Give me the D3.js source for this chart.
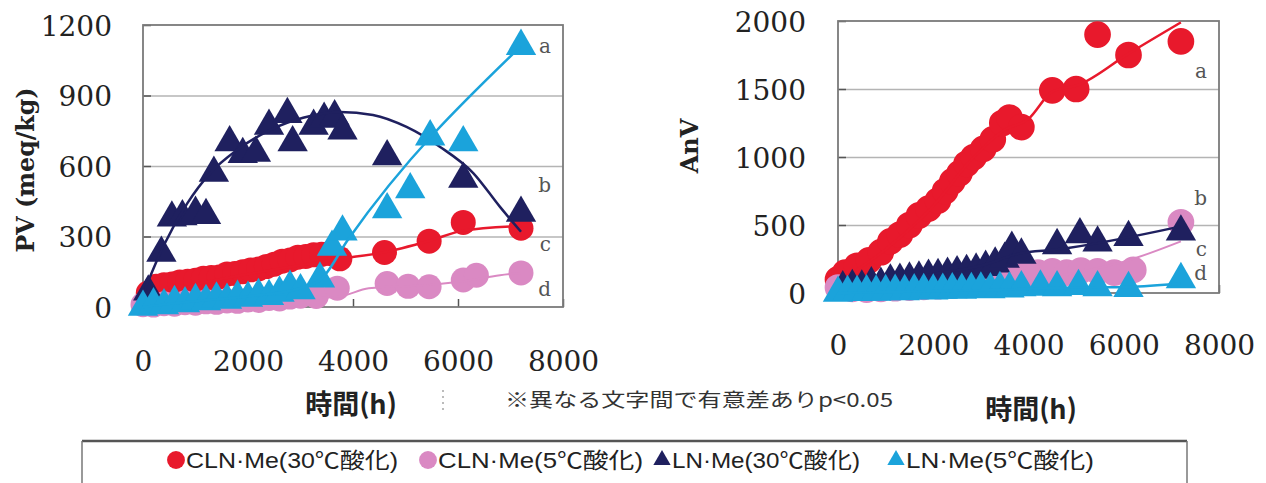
<!DOCTYPE html>
<html>
<head>
<meta charset="utf-8">
<script src="https://cdn.jsdelivr.net/npm/d3@7"></script>
<style>
  html, body { margin: 0; padding: 0; background: #fff; }
  svg { display: block; }
  .tick-label { font-family: "DejaVu Serif", serif; font-size: 28px; fill: #222; }
  .axis-title { font-family: "DejaVu Serif", serif; font-weight: bold; font-size: 24px; fill: #222; }
  .jp-title { font-family: "Noto Sans CJK JP", sans-serif; font-weight: bold; font-size: 27px; fill: #222; }
  .letter { font-family: "DejaVu Serif", serif; font-size: 20px; fill: #555; }
</style>
</head>
<body>
<div id="chart"></div>
<script>
const width = 1266;
const height = 483;

// shared x ticks (hours)
const timeTicks = [0, 2000, 4000, 6000, 8000];
const pvTicks = [0, 300, 600, 900, 1200];
const anvTicks = [0, 500, 1000, 1500, 2000];

const seriesNames = ["CLN·Me(30℃酸化)", "CLN·Me(5℃酸化)", "LN·Me(30℃酸化)", "LN·Me(5℃酸化)"];
const seriesColors = ["#e8192c", "#da89c3", "#1f205f", "#1ba3db"];
const seriesShapes = ["circle", "circle", "triangle", "triangle"];

// ---- PV panel (left) : [hours, value]
const pvRed = [[100, 60], [250, 88], [400, 95], [550, 98], [700, 106], [850, 110], [1000, 114], [1150, 122],
  [1300, 126], [1450, 128], [1600, 140], [1750, 143], [1900, 150], [2050, 158], [2200, 162], [2350, 172],
  [2500, 182], [2650, 195], [2800, 200], [2950, 212], [3100, 215], [3250, 222], [3400, 224], [3550, 228],
  [3750, 205], [4600, 232], [5450, 280], [6100, 360], [7200, 335]];
const pvPink = [[0, 10], [200, 8], [400, 14], [600, 12], [800, 18], [1000, 16], [1200, 22], [1400, 20],
  [1600, 26], [1800, 24], [2000, 30], [2200, 28], [2400, 36], [2600, 34], [2800, 42], [3000, 46],
  [3300, 45], [3700, 80], [4650, 100], [5050, 88], [5450, 86], [6100, 115], [6350, 135], [7200, 145]];
const pvNavy = [[100, 65], [350, 230], [550, 380], [750, 385], [1000, 400], [1200, 390], [1350, 570],
  [1650, 700], [1900, 650], [2150, 655], [2400, 770], [2750, 820], [2850, 700], [3250, 770], [3450, 800],
  [3650, 810], [3800, 750], [4650, 640], [6100, 545], [7200, 400]];
const pvBlue = [[0, 0], [200, 10], [400, 6], [600, 20], [800, 15], [1000, 28], [1200, 24], [1400, 35],
  [1600, 30], [1800, 42], [2000, 38], [2200, 50], [2400, 46], [2600, 60], [2800, 85], [3000, 70],
  [3370, 120], [3600, 255], [3800, 320], [4650, 415], [5090, 500], [5470, 725], [6100, 700], [7200, 1110]];

// trend lines
const pvRedFit = [[0, 20], [1000, 95], [2000, 140], [3000, 178], [3750, 205], [4570, 232], [5470, 283], [6100, 325], [7200, 345]];
const pvPinkFit = [[0, 5], [1000, 15], [2000, 25], [3000, 35], [3750, 45], [4300, 80], [5500, 95], [6100, 110], [6800, 135], [7200, 145]];
const pvNavyFit = [[0, 55], [380, 255], [840, 440], [1280, 570], [1790, 668], [2420, 753], [3050, 805], [3750, 830],
  [4380, 817], [5020, 766], [5660, 681], [6290, 570], [6800, 426], [7200, 320]];
const pvBlueFit = [[0, 0], [1000, 25], [2000, 45], [3000, 80], [3400, 120], [3900, 285], [7200, 1110]];

// ---- AnV panel (right)
const anvRed = [[0, 100], [150, 150], [400, 200], [650, 240], [900, 300], [1100, 380], [1300, 430], [1500, 500],
  [1700, 570], [1900, 620], [2100, 680], [2250, 750], [2400, 820], [2550, 880], [2700, 950], [2850, 1000],
  [3050, 1060], [3250, 1130], [3450, 1250], [3600, 1290], [3850, 1220], [4500, 1490], [5000, 1500],
  [5450, 1900], [6100, 1750], [7200, 1850]];
const anvPink = [[0, 40], [300, 30], [600, 25], [900, 30], [1200, 35], [1500, 40], [1800, 45], [2100, 50],
  [2400, 55], [2700, 60], [3000, 70], [3300, 80], [3600, 100], [3900, 130], [4200, 150], [4500, 160],
  [4800, 150], [5100, 165], [5450, 160], [5800, 150], [6200, 170], [7200, 520]];
const anvNavy = [[100, 40], [300, 50], [500, 45], [700, 70], [900, 65], [1100, 90], [1300, 95], [1500, 105],
  [1700, 112], [1900, 125], [2100, 130], [2300, 140], [2500, 150], [2700, 160], [2900, 170], [3100, 190],
  [3300, 215], [3500, 250], [3650, 330], [3850, 280], [4600, 350], [5080, 430], [5450, 370], [6100, 410], [7200, 450]];
const anvBlue = [[0, 0], [200, 5], [400, 5], [600, 10], [800, 8], [1000, 12], [1200, 15], [1400, 12],
  [1600, 18], [1800, 20], [2000, 16], [2200, 22], [2400, 25], [2600, 22], [2800, 28], [3000, 30],
  [3200, 26], [3400, 35], [3600, 32], [3850, 40], [4250, 45], [4600, 40], [5050, 50], [5450, 40],
  [6100, 35], [7200, 100]];

const anvRedFit = [[0, 80], [1000, 320], [2000, 640], [2800, 980], [3500, 1200], [4000, 1280], [4500, 1480], [5050, 1530], [6100, 1760], [7200, 1990]];
const anvPinkFit = [[0, 30], [2000, 25], [3000, 45], [4000, 90], [5000, 150], [6000, 230], [7200, 380]];
const anvNavyFit = [[0, 20], [1000, 80], [2000, 140], [3000, 200], [3800, 290], [4600, 320], [7200, 490]];
const anvBlueFit = [[0, 0], [3000, 20], [5000, 40], [6100, 45], [7200, 70]];

const pvLetters = [["a", 1110], ["b", 520], ["c", 270], ["d", 75]];
const anvLetters = [["a", 1630], ["b", 700], ["c", 320], ["d", 150]];

const svg = d3.select("#chart").append("svg")
  .attr("width", width)
  .attr("height", height)
  .attr("viewBox", `0 0 ${width} ${height}`);

function drawPanel(p) {
  const x = d3.scaleLinear().domain([0, 8000]).range([p.left, p.right]);
  const y = d3.scaleLinear().domain([0, p.yMax]).range([p.bottom, p.top]);
  const g = svg.append("g");

  // gridlines
  g.append("g")
    .attr("transform", `translate(${p.left},0)`)
    .call(d3.axisLeft(y).tickValues(p.yTicks.slice(1, -1)).tickSize(-(p.right - p.left)).tickFormat(""))
    .call((s) => s.select(".domain").remove())
    .call((s) => s.selectAll("line").attr("stroke", "#b4b4b4").attr("stroke-width", 1.5));

  // short inner ticks
  g.append("g")
    .attr("transform", `translate(${p.left},0)`)
    .call(d3.axisRight(y).tickValues(p.yTicks).tickSize(8).tickFormat(""))
    .call((s) => s.select(".domain").remove())
    .call((s) => s.selectAll("line").attr("stroke", "#555").attr("stroke-width", 1.5));
  g.append("g")
    .attr("transform", `translate(0,${p.bottom})`)
    .call(d3.axisTop(x).tickValues(timeTicks).tickSize(8).tickFormat(""))
    .call((s) => s.select(".domain").remove())
    .call((s) => s.selectAll("line").attr("stroke", "#555").attr("stroke-width", 1.5));

  // frame
  g.append("rect")
    .attr("x", p.left).attr("y", p.top)
    .attr("width", p.right - p.left).attr("height", p.bottom - p.top)
    .attr("fill", "none").attr("stroke", "#7a7a7a").attr("stroke-width", 1.8);

  // y tick labels
  g.append("g")
    .attr("transform", `translate(${p.left},0)`)
    .call(d3.axisLeft(y).tickValues(p.yTicks).tickSize(0).tickPadding(p.yPad).tickFormat(d3.format("d")))
    .call((s) => s.select(".domain").remove())
    .call((s) => s.selectAll("text").attr("class", "tick-label").attr("font-family", null).attr("font-size", null).attr("fill", null).attr("dy", "0.36em"));

  // x tick labels
  g.append("g")
    .attr("transform", `translate(0,${p.bottom})`)
    .call(d3.axisBottom(x).tickValues(timeTicks).tickSize(0).tickFormat(d3.format("d")))
    .call((s) => s.select(".domain").remove())
    .call((s) => s.selectAll("text").attr("class", "tick-label").attr("font-family", null).attr("font-size", null).attr("fill", null)
      .attr("y", p.xLabelOffset).attr("dy", "0.36em"));

  const line = d3.line().x((d) => x(d[0])).y((d) => y(d[1])).curve(d3.curveMonotoneX);

  p.series.forEach((s, i) => {
    const sg = g.append("g");
    sg.selectAll("path.mark")
      .data(s.points)
      .join("path")
      .attr("class", "mark")
      .attr("transform", (d) => `translate(${x(d[0])},${y(d[1])})`)
      .attr("d", seriesShapes[i] === "circle"
        ? d3.symbol(d3.symbolCircle, p.circleSize)()
        : d3.symbol(d3.symbolTriangle, p.triSize)())
      .attr("fill", seriesColors[i]);
    sg.append("path")
      .datum(s.fit)
      .attr("d", line)
      .attr("fill", "none")
      .attr("stroke", seriesColors[i])
      .attr("stroke-width", s.lineWidth || 2.5);
  });

  // significance letters
  g.selectAll("text.letter")
    .data(p.letters)
    .join("text")
    .attr("class", "letter")
    .attr("x", p.right - 12)
    .attr("y", (d) => y(d[1]))
    .attr("dy", "0.35em")
    .attr("text-anchor", "end")
    .text((d) => d[0]);

  return { x, y };
}

drawPanel({
  left: 143, right: 563, top: 25, bottom: 307, yMax: 1200, yTicks: pvTicks,
  yPad: 31, xLabelOffset: 54, circleSize: 490, triSize: 400,
  series: [
    { points: pvRed, fit: pvRedFit },
    { points: pvPink, fit: pvPinkFit, lineWidth: 2 },
    { points: pvNavy, fit: pvNavyFit },
    { points: pvBlue, fit: pvBlueFit },
  ],
  letters: pvLetters,
});

drawPanel({
  left: 838, right: 1219, top: 21, bottom: 293, yMax: 2000, yTicks: anvTicks,
  yPad: 32, xLabelOffset: 52, circleSize: 560, triSize: 400,
  series: [
    { points: anvRed, fit: anvRedFit },
    { points: anvPink, fit: anvPinkFit, lineWidth: 2 },
    { points: anvNavy, fit: anvNavyFit },
    { points: anvBlue, fit: anvBlueFit },
  ],
  letters: anvLetters,
});

// axis titles
svg.append("text")
  .attr("class", "axis-title")
  .attr("transform", "translate(26,170) rotate(-90)")
  .attr("text-anchor", "middle")
  .attr("dy", "0.35em")
  .attr("textLength", 165)
  .attr("lengthAdjust", "spacingAndGlyphs")
  .text("PV (meq/kg)");

svg.append("text")
  .attr("class", "axis-title")
  .attr("transform", "translate(690,146) rotate(-90)")
  .attr("text-anchor", "middle")
  .attr("dy", "0.35em")
  .text("AnV");

svg.append("text")
  .attr("class", "jp-title")
  .attr("x", 351).attr("y", 405)
  .attr("text-anchor", "middle")
  .attr("dy", "0.35em")
  .text("時間(h)");

svg.append("text")
  .attr("class", "jp-title")
  .attr("x", 1031).attr("y", 410)
  .attr("text-anchor", "middle")
  .attr("dy", "0.35em")
  .text("時間(h)");

svg.append("text")
  .attr("x", 505).attr("y", 400)
  .attr("dy", "0.35em")
  .attr("font-family", "Noto Sans CJK JP")
  .attr("font-size", 19)
  .attr("fill", "#333")
  .attr("textLength", 388)
  .attr("lengthAdjust", "spacingAndGlyphs")
  .text("※異なる文字間で有意差ありp<0.05");

// faint dotted separator
svg.append("line")
  .attr("x1", 443).attr("x2", 443).attr("y1", 390).attr("y2", 414)
  .attr("stroke", "#bbb").attr("stroke-width", 2).attr("stroke-dasharray", "2,4");

// legend box
const legend = svg.append("g");
legend.append("line").attr("x1", 82).attr("x2", 1187).attr("y1", 441).attr("y2", 441)
  .attr("stroke", "#555").attr("stroke-width", 2.5);
legend.append("line").attr("x1", 82).attr("x2", 82).attr("y1", 441).attr("y2", height)
  .attr("stroke", "#777").attr("stroke-width", 1.5);
legend.append("line").attr("x1", 1187).attr("x2", 1187).attr("y1", 441).attr("y2", height)
  .attr("stroke", "#777").attr("stroke-width", 1.5);

const legendX = [176, 428, 662, 896];
const legendW = [212, 205, 188, 188];
const items = legend.selectAll("g.item")
  .data(seriesNames)
  .join("g")
  .attr("class", "item")
  .attr("transform", (d, i) => `translate(${legendX[i]},460)`);
items.append("path")
  .attr("d", (d, i) => seriesShapes[i] === "circle"
    ? d3.symbol(d3.symbolCircle, 250)()
    : d3.symbol(d3.symbolTriangle, 130)())
  .attr("fill", (d, i) => seriesColors[i]);
items.append("text")
  .attr("x", 10)
  .attr("dy", "0.35em")
  .attr("font-family", "'Liberation Sans Narrow', 'Liberation Sans', 'Noto Sans CJK JP'")
  .attr("font-size", 22)
  .attr("fill", "#222")
  .attr("textLength", (d, i) => legendW[i])
  .attr("lengthAdjust", "spacingAndGlyphs")
  .text((d) => d);
</script>
</body>
</html>
